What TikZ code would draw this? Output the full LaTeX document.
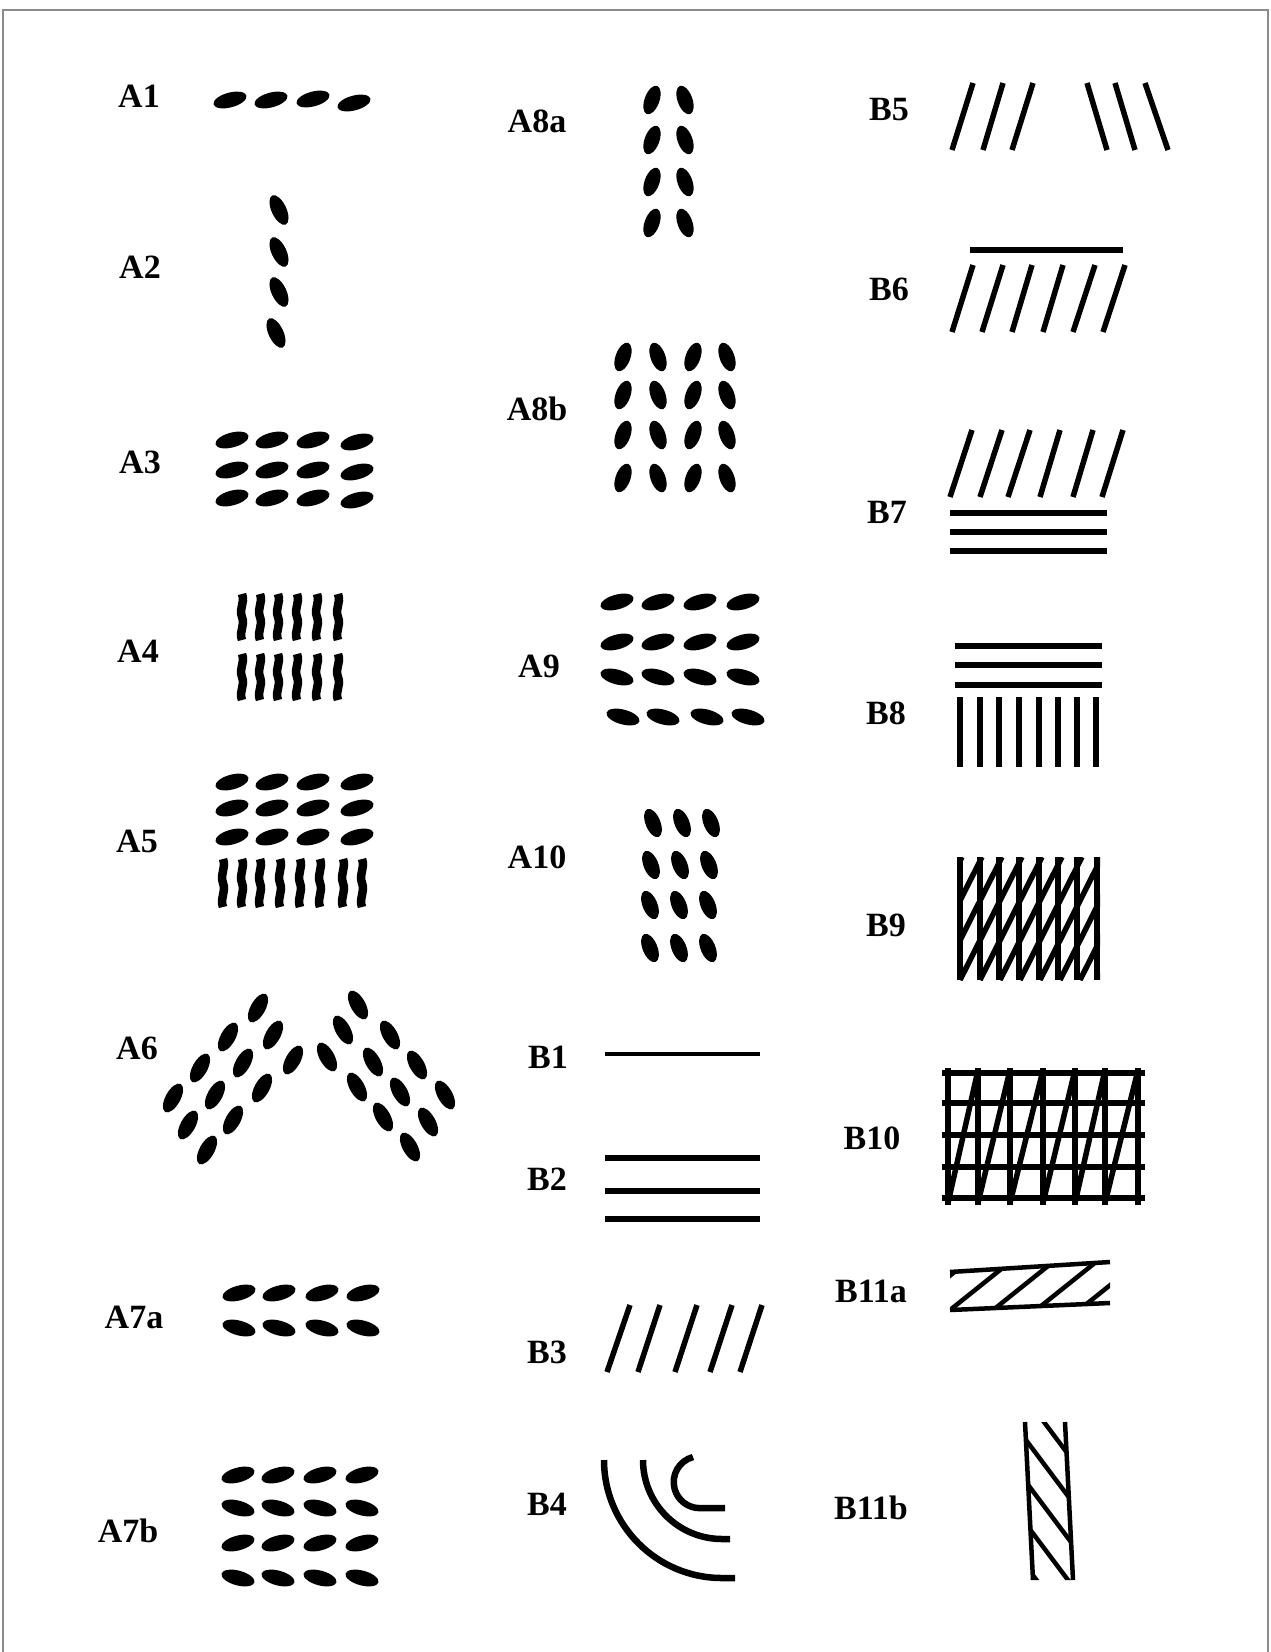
\documentclass[tikz,border=0pt]{standalone}
\usepackage{fontspec}
\setmainfont{Liberation Serif}
\newcommand\grn[4][17]{\fill[shift={(#2,#3)},rotate=#4] (0,0) ellipse[x radius=#1pt,y radius=7.4pt];}
\newcommand\wbar[3]{\draw[wv] (#1,#2) .. controls ({#1+3.5},{#2+0.2*#3}) and ({#1-3.5},{#2+0.3*#3}) .. ({#1},{#2+0.5*#3}) .. controls ({#1+3.5},{#2+0.7*#3}) and ({#1-3.5},{#2+0.8*#3}) .. ({#1},{#2+#3});}
\begin{document}
\begin{tikzpicture}[x=1pt,y=-1pt,
  lab/.style={font=\fontsize{34}{34}\selectfont\bfseries, inner sep=0pt},
  bl/.style={line width=5.5pt},
  wv/.style={line width=8.5pt},
  frame/.style={draw=black!45, line width=1.5pt}]
\fill[white] (0,0) rectangle (1270,1652);
\useasboundingbox (0,0) rectangle (1270,1652);
\draw[frame] (3,1652) -- (3,10) -- (1268,10) -- (1268,1652);
% labels
\node[lab] (A1) at (139,96) {A1};
\node[lab] (A2) at (140,267) {A2};
\node[lab] (A3) at (140,462) {A3};
\node[lab] (A4) at (138,651) {A4};
\node[lab] (A5) at (137,841) {A5};
\node[lab] (A6) at (137,1048) {A6};
\node[lab] (A7a) at (134,1317) {A7a};
\node[lab] (A7b) at (128,1531) {A7b};
\node[lab] (A8a) at (537,121) {A8a};
\node[lab] (A8b) at (537,409) {A8b};
\node[lab] (A9) at (539,666) {A9};
\node[lab] (A10) at (537,857) {A10};
\node[lab] (B1) at (548,1057) {B1};
\node[lab] (B2) at (547,1179) {B2};
\node[lab] (B3) at (547,1352) {B3};
\node[lab] (B4) at (547,1504) {B4};
\node[lab] (B5) at (889,110) {B5};
\node[lab] (B6) at (889,289) {B6};
\node[lab] (B7) at (887,512) {B7};
\node[lab] (B8) at (886,713) {B8};
\node[lab] (B9) at (886,925) {B9};
\node[lab] (B10) at (872,1138) {B10};
\node[lab] (B11a) at (871,1291) {B11a};
\node[lab] (B11b) at (871,1508) {B11b};
% A1
\grn{230}{100}{15}\grn{271}{100}{15}\grn{313}{99}{15}\grn{354}{103}{15}
% A2
\foreach \y/\x in {210/279,252/279,292/279,333/276}{\grn[16]{\x}{\y}{-65}}
% A3
\foreach \y in {440,470,498}{\foreach \x in {232,272,313}{\grn{\x}{\y}{15}}\grn{357}{\y+2}{15}}
% A4
\foreach \x in {242,260,278,297,317,338}{\wbar{\x}{594}{46}\wbar{\x}{654}{46}}
% A5
\foreach \y in {782,808,837}{\foreach \x in {232,272,313,357}{\grn{\x}{\y}{15}}}
\foreach \x in {223,242,260,280,300,320,343,362}{\wbar{\x}{859}{48}}
% A6
\foreach \x/\y in {258/1008,228/1037,200/1068,173/1098,273/1035,243/1063,215/1095,188/1125,293/1060,262/1088,233/1120,207/1150}{\grn[16]{\x}{\y}{61}}
\foreach \x/\y in {358/1005,390/1035,417/1065,445/1095,343/1030,373/1062,400/1092,428/1122,327/1057,357/1087,383/1117,410/1147}{\grn[16]{\x}{\y}{-61}}
% A7a
\foreach \x in {239,279,322,363}{\grn{\x}{1293}{15}\grn{\x}{1328}{-15}}
% A7b
\foreach \x in {238,278,320,362}{\grn{\x}{1475}{15}\grn{\x}{1508}{-15}\grn{\x}{1543}{15}\grn{\x}{1578}{-15}}
% A8a
\foreach \y in {100,140,182,223}{\grn[15]{652}{\y}{70}\grn[15]{685}{\y}{-70}}
% A8b
\foreach \y in {357,395,435,478}{\grn[15]{623}{\y}{70}\grn[15]{658}{\y}{-70}\grn[15]{693}{\y}{70}\grn[15]{727}{\y}{-70}}
% A9
\foreach \x in {617,658,700,743}{\grn{\x}{602}{15}\grn{\x}{642}{15}\grn{\x}{677}{-15}}
\foreach \x in {623,663,707,748}{\grn{\x}{717}{-15}}
% A10
\foreach \y/\d in {823/3,865/1,905/0,948/0}{\foreach \x in {650,679,708}{\grn[15]{\x+\d}{\y}{-68}}}
% B1, B2
\draw[line width=4.5pt] (605,1054) -- (760,1054);
\foreach \y in {1158,1191,1219}{\draw[line width=6.5pt] (605,\y) -- (760,\y);}
% B3
\foreach \a/\b in {607/630,638/660,675/697,710/732,740/762}{\draw[bl] (\a,1372) -- (\b,1305);}
% B4
\draw[line width=6.5pt] (604,1460) arc[start angle=180,end angle=270,radius=118pt] -- (735,1578);
\draw[line width=6.5pt] (643,1460) arc[start angle=180,end angle=270,radius=79pt] -- (730,1539);
\draw[line width=6.5pt] (693,1457) arc[start angle=105,end angle=270,radius=26pt] -- (725,1508);
% B5
\foreach \a/\b in {952/973,983/1003,1012/1033}{\draw[bl] (\a,150) -- (\b,83);}
\foreach \a/\b in {1087/1107,1115/1135,1145/1168}{\draw[bl] (\a,83) -- (\b,150);}
% B6
\draw[bl] (970,250) -- (1123,250);
\foreach \a/\b in {952/973,982/1003,1012/1032,1043/1063,1073/1095,1103/1125}{\draw[bl] (\a,332) -- (\b,265);}
% B7
\foreach \a/\b in {950/972,980/1002,1008/1030,1040/1060,1073/1093,1102/1123}{\draw[bl] (\a,497) -- (\b,430);}
\foreach \y in {513,532,551}{\draw[bl] (950,\y) -- (1107,\y);}
% B8
\foreach \y in {646,665,685}{\draw[bl] (955,\y) -- (1102,\y);}
\foreach \x in {960,980,999,1019,1039,1058,1077,1096}{\draw[bl] (\x,697) -- (\x,767);}
% B9
\foreach \x in {960,980,999,1019,1039,1058,1077,1097}{\draw[bl] (\x,857) -- (\x,980);}
\begin{scope}
\clip (958,857) rectangle (1100,980);
\foreach \k in {-8,...,8}{\draw[bl] ({960+20*\k},980) -- ({960+20*\k+62},857);}
\end{scope}
% B10
\foreach \y in {1073,1103,1135,1167,1198}{\draw[bl] (942,\y) -- (1145,\y);}
\foreach \x in {948,978,1010,1043,1075,1105,1138}{\draw[bl] (\x,1068) -- (\x,1205);}
\foreach \a/\b in {948/978,978/1010,1010/1043,1043/1075,1075/1105,1105/1138}{\draw[bl] (\a,1203) -- (\b,1070);}
% B11a
\draw[line width=4.5pt] (950,1272) -- (1110,1262);
\draw[line width=4.5pt] (950,1310) -- (1110,1303);
\begin{scope}
\clip (950,1272) -- (1110,1262) -- (1110,1303) -- (950,1310) -- cycle;
\foreach \k in {-1,...,5}{\draw[line width=4.5pt] ({940+43*\k},1318) -- ({940+43*\k+70},1262);}
\end{scope}
% B11b
\draw[line width=4.5pt] (1025,1422) -- (1033,1580);
\draw[line width=4.5pt] (1065,1422) -- (1073,1580);
\begin{scope}
\clip (1025,1422) -- (1065,1422) -- (1073,1580) -- (1033,1580) -- cycle;
\foreach \k in {-1,...,5}{\draw[line width=4.5pt] (1020,{1390+42*\k}) -- (1080,{1390+42*\k+80});}
\end{scope}
\end{tikzpicture}
\end{document}
